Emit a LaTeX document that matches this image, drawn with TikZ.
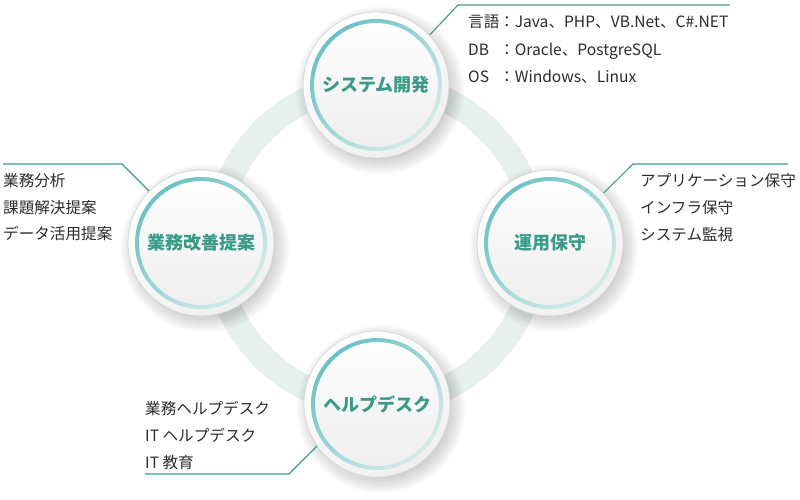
\documentclass[tikz,border=0pt]{standalone}
\usepackage{fontspec}
\setmainfont{Noto Sans CJK JP}
\usetikzlibrary{calc}
\definecolor{bandcol}{HTML}{E6F0ED}
\definecolor{ringdark}{HTML}{6CC0C5}
\definecolor{ringlight}{HTML}{D4ECE8}
\definecolor{titlecol}{HTML}{3A9A88}
\definecolor{leadcol}{HTML}{3D9B8B}
\definecolor{bodycol}{HTML}{2B2B2B}
\definecolor{rimcol}{HTML}{D6D6D6}
\newcommand\bubshadow[1]{%
  \foreach \r in {66,68,...,84}{\fill[black,opacity=0.024] ($(#1)+(4,5)$) circle[radius=\r];}}
\tikzset{
  bubble/.style={circle, minimum size=146pt, inner sep=0pt, draw=rimcol, line width=0.8pt,
    top color=white, bottom color=black!6, shading angle=30,
    text=titlecol, font=\bfseries\fontsize{18}{20}\selectfont,
    path picture={
      \shade[top color=white, bottom color=black!7]
        (path picture bounding box.center) circle[radius=62pt];
      \shade[top color=ringdark, bottom color=ringlight, shading angle=45, even odd rule]
        (path picture bounding box.center) circle[radius=66pt]
        (path picture bounding box.center) circle[radius=62pt];
    }},
  body/.style={anchor=base west, inner sep=0pt, text=bodycol, font=\fontsize{15.6}{18}\selectfont},
  lead/.style={draw=leadcol, line width=1.1pt},
}
\begin{document}
\begin{tikzpicture}[x=1pt,y=-1pt]
\useasboundingbox (0,0) rectangle (800,499);
\coordinate (ringc) at (376,244);
\draw[bandcol, line width=25pt] (ringc) circle[radius=160];
\coordinate (csys) at (376,85);
\coordinate (ckai) at (201,243);
\coordinate (cuny) at (550,243);
\coordinate (chlp) at (377,404);
\bubshadow{csys}\bubshadow{ckai}\bubshadow{cuny}\bubshadow{chlp}
\node[bubble] (sys) at (csys) {システム開発};
\node[bubble] (kai) at (ckai) {業務改善提案};
\node[bubble] (uny) at (cuny) {運用保守};
\node[bubble] (hlp) at (chlp) {ヘルプデスク};
% leaders
\coordinate (t1) at (458,5); \coordinate (t2) at (730,5);
\coordinate (l1) at (122,164); \coordinate (l2) at (3,164);
\coordinate (r1) at (633,164); \coordinate (r2) at (788,164);
\coordinate (b1) at (289,474); \coordinate (b2) at (145,474);
\draw[lead] (sys.43) -- (t1) -- (t2);
\draw[lead] (kai.135) -- (l1) -- (l2);
\draw[lead] (uny.43) -- (r1) -- (r2);
\draw[lead] (hlp.215) -- (b1) -- (b2);
% top text
\node[body] (ta) at (468,27) {言語};
\node[body] (tb) at (468,55) {DB};
\node[body] (tc) at (468,82) {OS};
\node[body] (ta2) at (499,27) {：Java、PHP、VB.Net、C\#.NET};
\node[body] (tb2) at (499,55) {：Oracle、PostgreSQL};
\node[body] (tc2) at (499,82) {：Windows、Linux};
% left text
\node[body] (la) at (3,186) {業務分析};
\node[body] (lb) at (3,213) {課題解決提案};
\node[body] (lc) at (3,239) {データ活用提案};
% right text
\node[body] (ra) at (640,186) {アプリケーション保守};
\node[body] (rb) at (640,213) {インフラ保守};
\node[body] (rc) at (640,240) {システム監視};
% bottom text
\node[body] (ba) at (145,414) {業務ヘルプデスク};
\node[body] (bb) at (145,441) {IT ヘルプデスク};
\node[body] (bc) at (145,468) {IT 教育};
\end{tikzpicture}
\end{document}
